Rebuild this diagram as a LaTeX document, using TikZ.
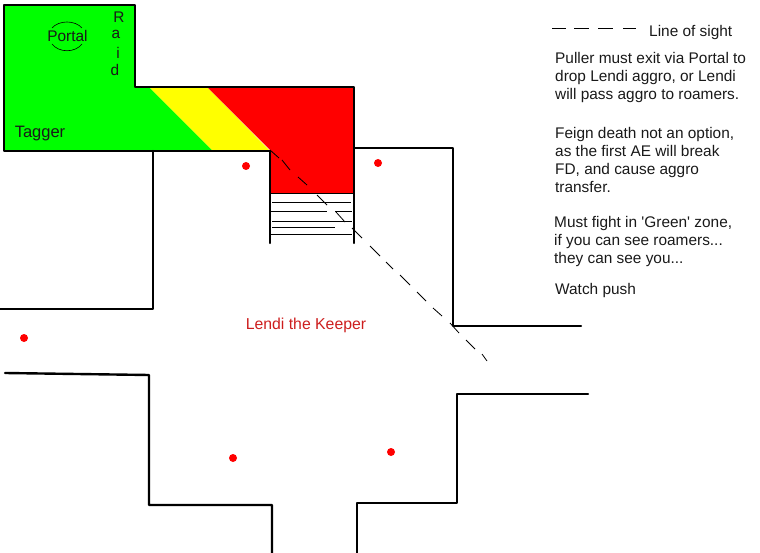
\documentclass[tikz,border=0pt]{standalone}
\usepackage{fontspec}
\setmainfont{Liberation Sans}
\tikzset{
  wall/.style={draw=black,line width=2.4pt,line cap=round,line join=round},
  thinline/.style={draw=black,line width=1pt},
  sight/.style={draw=black,line width=0.8pt},
  label/.style={font=\fontsize{15.4}{18}\selectfont,inner sep=0pt,text=black!90},
  para/.style={label,anchor=north west,align=left,text depth=0pt},
  roamer/.style={circle,fill=red,inner sep=0pt,minimum size=8pt},
}
\begin{document}
\begin{tikzpicture}[x=1pt,y=-1pt]
\useasboundingbox (0,0) rectangle (760,553);
% zones
\fill[fill={rgb,255:red,0;green,255;blue,0}] (4,5)--(135,5)--(135,87)--(149,87)--(213,151)--(4,151)--cycle;
\fill[fill={rgb,255:red,255;green,255;blue,0}] (149,87)--(207,87)--(269,150)--(213,151)--cycle;
\fill[fill={rgb,255:red,255;green,0;blue,0}] (207,87)--(354,87)--(354,194)--(270,194)--(270,150)--cycle;
% room outline
\draw[wall] (270,151)--(4,151)--(4,5)--(135,5)--(135,87)--(354,87)--(354,243);
\draw[wall] (270,151)--(270,243);
\draw[thinline] (270,194)--(354,194);
% stairs
\draw[thinline] (272,203)--(351,203);
\draw[thinline] (271,212)--(327,212);
\draw[thinline] (335,212)--(352,212);
\draw[thinline] (272,222)--(352,222);
\draw[thinline] (272,228)--(335,228);
\draw[thinline] (271,235)--(352,235);
% corridors
\draw[wall] (153,151)--(153,309)--(0,309);
\draw[wall] (5,373)--(149,375)--(149,505)--(272,505)--(272,553);
\draw[wall] (357,553)--(357,503)--(457,503)--(457,394)--(588,394);
\draw[wall] (355,148)--(453,148)--(453,326)--(581,326);
% line of sight
\foreach \ax/\ay/\bx/\by in {270/150/279/158,282/160/290/170,298/177/307/185,317/195/327/205,336/212/345/222,352/228/362/238,370/246/380/256,386/262/393/269,400/275/410/285,417/292/426/301,433/308/442/316,450/323/459/333,466/340/475/349,482/354/487/361}
  \draw[sight] (\ax,\ay)--(\bx,\by);
% legend dashes
\foreach \ax/\bx in {552/566,574/589,598/613,623/636}
  \draw[sight] (\ax,28)--(\bx,28);
% portal
\node[label] (portal) at (67.5,36) {Portal};
\draw[sight,line width=0.6pt] (52,28) .. controls (59,20) and (75,20) .. (82,28);
\draw[sight,line width=0.6pt] (52,44) .. controls (59,53) and (75,53) .. (82,44);
% labels
\node[label] (r1) at (119,17) {R};
\node[label] (r2) at (116,34) {a};
\node[label] (r3) at (118,53) {i};
\node[label] (r4) at (115,70) {d};
\node[label,font=\fontsize{16.5}{18}\selectfont] (tagger) at (40,134) {Tagger};
\node[label,font=\fontsize{15.8}{18}\selectfont,text={rgb,255:red,205;green,30;blue,30}] (lendi) at (306,325) {Lendi the Keeper};
\node[label,anchor=west] (legend) at (649,33) {Line of sight};
\node[para] (p1) at (555,52.5) {Puller must exit via Portal to\\drop Lendi aggro, or Lendi\\will pass aggro to roamers.};
\node[para] (p2) at (555,127.5) {Feign death not an option,\\as the first AE will break\\FD, and cause aggro\\transfer.};
\node[para] (p3) at (554,216.5) {Must fight in \textquotesingle Green\textquotesingle{} zone,\\if you can see roamers...\\they can see you...};
\node[para] (p4) at (555,283.5) {Watch push};
% roamers
\node[roamer] (d1) at (246,166) {};
\node[roamer] (d2) at (378,163) {};
\node[roamer] (d3) at (24,338) {};
\node[roamer] (d4) at (233,458) {};
\node[roamer] (d5) at (391,452) {};
\end{tikzpicture}
\end{document}
